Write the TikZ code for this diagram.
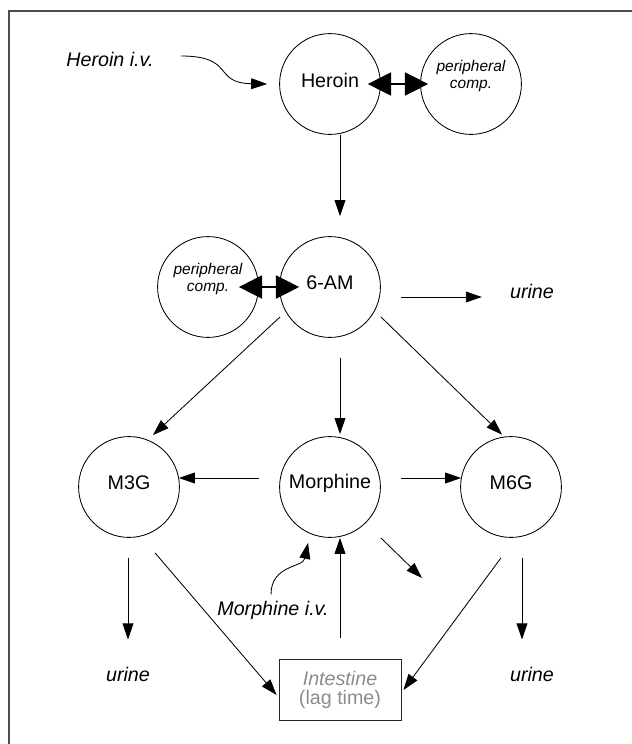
\documentclass[tikz,border=0pt]{standalone}
\usepackage{fontspec}
\setmainfont{Liberation Sans}
\usetikzlibrary{arrows.meta}

\begin{document}
\begin{tikzpicture}[
            x=0.025cm, y=-0.025cm,
            Comp/.style={draw, circle, minimum size=2.52cm, inner sep=0pt, line width=0.6pt,
                label={[anchor=base, yshift=0.1cm, font=\fontsize{14}{16}\selectfont]center:#1}},
            PeriphComp/.style={draw, circle, minimum size=2.52cm, inner sep=0pt, line width=0.6pt,
                label={[align=center, yshift=0.2cm, font=\itshape\fontsize{11}{12}\selectfont]center:peripheral\\comp.}},
            FreeText/.style={inner sep=0pt, font=\itshape\fontsize{14}{16}\selectfont},
            Flow/.style={-{Triangle[length=0.4cm, width=0.27cm]}, line width=0.6pt},
            BigFlow/.style={{Triangle[length=0.58cm, width=0.58cm]}-{Triangle[length=0.58cm, width=0.58cm]}, line width=0.8pt},
            ]
            \useasboundingbox (0,0) rectangle (632,744);
            \draw[black!70, line width=0.8pt] (9,744) -- (9,11) -- (632,11);

            \node[FreeText] (hiv) at (110,59) {Heroin i.v.};
            \node[Comp=Heroin] (heroin) at (330,84) {};
            \node[PeriphComp] (periphR) at (471,84) {};
            \node[Comp=6-AM] (am6) at (330,287) {};
            \node[PeriphComp] (periphL) at (208,287) {};
            \node[FreeText] (urineA) at (532,291) {urine};
            \node[Comp=M3G] (m3g) at (129,487) {};
            \node[Comp=Morphine] (morphine) at (330,487) {};
            \node[Comp=M6G] (m6g) at (511,487) {};
            \coordinate (drain) at (422,578);
            \node[FreeText] (miv) at (273,610) {Morphine i.v.};
            \node[FreeText] (urineB) at (128,674) {urine};
            \node[FreeText] (urineC) at (532,674) {urine};
            \node[draw=black!85, line width=0.6pt, minimum width=3.05cm, minimum height=1.525cm, inner sep=0pt,
                align=center, text=black!45, font=\fontsize{14}{14}\selectfont] (intestine) at (340,690) {\textit{Intestine}\\(lag time)};

            % heroin part
            \draw[Flow] ([shift={(27,-3)}]hiv.east) .. controls +(55,0) and +(-55,-1) .. ([shift={(-12,0)}]heroin.west);
            \draw[BigFlow] ([shift={(-13,0)}]heroin.east) -- ([shift={(8,0)}]periphR.west);
            \draw[Flow] ([shift={(10,0)}]heroin.south) -- ([shift={(10,-20)}]am6.north);

            % 6-AM part
            \draw[BigFlow] ([shift={(-20,0)}]periphL.east) -- ([shift={(20,0)}]am6.west);
            \draw[Flow] ([shift={(20,10)}]am6.east) -- ([shift={(-28,6)}]urineA.west);
            \draw[Flow] ([shift={(-14,-6)}]am6.south west) -- ([shift={(-12,-16)}]m3g.north east);
            \draw[Flow] ([shift={(10,20)}]am6.south) -- ([shift={(10,-2)}]morphine.north);
            \draw[Flow] ([shift={(15,-6)}]am6.south east) -- ([shift={(-9,-1.5)}]m6g.north);

            % morphine and metabolites
            \draw[Flow] ([shift={(-20,-9)}]morphine.west) -- ([shift={(-1,-9)}]m3g.east);
            \draw[Flow] ([shift={(20,-9)}]morphine.east) -- ([shift={(1,-9)}]m6g.west);
            \draw[Flow] ([shift={(15,15)}]morphine.south east) -- (drain);
            \draw[Flow] ([shift={(-2,-6)}]miv.north) .. controls +(0,-30) and +(-5,25) .. ([shift={(-22,5)}]morphine.south);
            \draw[Flow] ([shift={(0,-21)}]intestine.north) -- ([shift={(10,0)}]morphine.south);
            \draw[Flow] ([shift={(-1,20)}]m3g.south) -- ([shift={(0,-27)}]urineB.north);
            \draw[Flow] ([shift={(26,15)}]m3g.south) -- ([shift={(-2,5)}]intestine.west);
            \draw[Flow] ([shift={(-10,20)}]m6g.south) -- ([shift={(2,0)}]intestine.east);
            \draw[Flow] ([shift={(11,20)}]m6g.south) -- ([shift={(-10,-27)}]urineC.north);
\end{tikzpicture}
\end{document}
